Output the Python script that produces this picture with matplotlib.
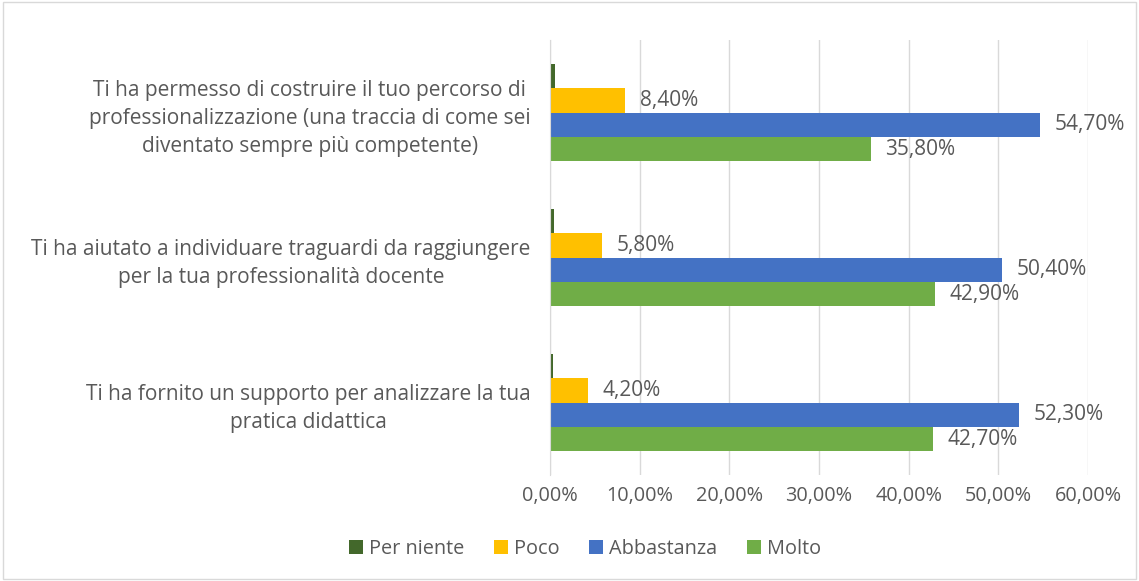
import matplotlib
matplotlib.use("Agg")
import matplotlib.pyplot as plt
import numpy as np

categories = [
    "Ti ha fornito un supporto per analizzare la tua\npratica didattica",
    "Ti ha aiutato a individuare traguardi da raggiungere\nper la tua professionalità docente",
    "Ti ha permesso di costruire il tuo percorso di\nprofessionalizzazione (una traccia di come sei\ndiventato sempre più competente)",
]
series_names = ["Per niente", "Poco", "Abbastanza", "Molto"]
per_niente = [0.3, 0.4, 0.6]
poco = [4.2, 5.8, 8.4]
abbastanza = [52.3, 50.4, 54.7]
molto = [42.7, 42.9, 35.8]
colors = ["#43682B", "#FFC000", "#4472C4", "#70AD47"]
xticks = [0, 10, 20, 30, 40, 50, 60]

plt.rcParams['font.family'] = ['Open Sans', 'DejaVu Sans']
txt = "#595959"

fig = plt.figure(figsize=(11.39, 5.81), dpi=100)
ax = fig.add_axes([550/1139, 1-475/581, (1088-550)/1139, (475-40)/581])

data = [per_niente, poco, abbastanza, molto]
h = 0.168
y = np.arange(len(categories))
offsets = [1.5*h, 0.5*h, -0.5*h, -1.5*h]
for i, (vals, name, c) in enumerate(zip(data, series_names, colors)):
    bars = ax.barh(y + offsets[i], vals, height=h, color=c, label=name, zorder=3)
    if i > 0:
        for b, v in zip(bars, vals):
            ax.text(v + 1.6, b.get_y() + h/2, f"{v:.2f}%".replace(".", ","),
                    va="center", ha="left", fontsize=15, color=txt)

ax.set_xlim(0, 60)
ax.set_ylim(-0.5, 2.5)
ax.set_xticks(xticks)
ax.set_xticklabels([f"{t:.2f}%".replace(".", ",") for t in xticks], fontsize=14.3, color=txt)
ax.set_yticks(y)
ax.set_yticklabels(categories, fontsize=15, color=txt, multialignment="center", linespacing=1.45)
ax.tick_params(axis="both", length=0)
ax.tick_params(axis="x", pad=8)
ax.tick_params(axis="y", pad=14)
ax.grid(axis="x", color="#D9D9D9", linewidth=1, zorder=0)
for s in ["top", "right", "bottom"]:
    ax.spines[s].set_visible(False)
ax.spines["left"].set_color("#D9D9D9")
ax.spines["left"].set_zorder(4)

handles, labels = ax.get_legend_handles_labels()
fig.legend(handles, labels, loc="center", bbox_to_anchor=(585/1139, 1-549/581), ncol=4,
           frameon=False, fontsize=14.3, labelcolor=txt, handlelength=0.7, handleheight=0.7,
           columnspacing=1.5, handletextpad=0.3)

fig.patches.append(plt.Rectangle((0.003, 0.003), 0.994, 0.994, transform=fig.transFigure,
                                 fill=False, edgecolor="#D9D9D9", linewidth=1))
fig.savefig("out.png", dpi=100)
